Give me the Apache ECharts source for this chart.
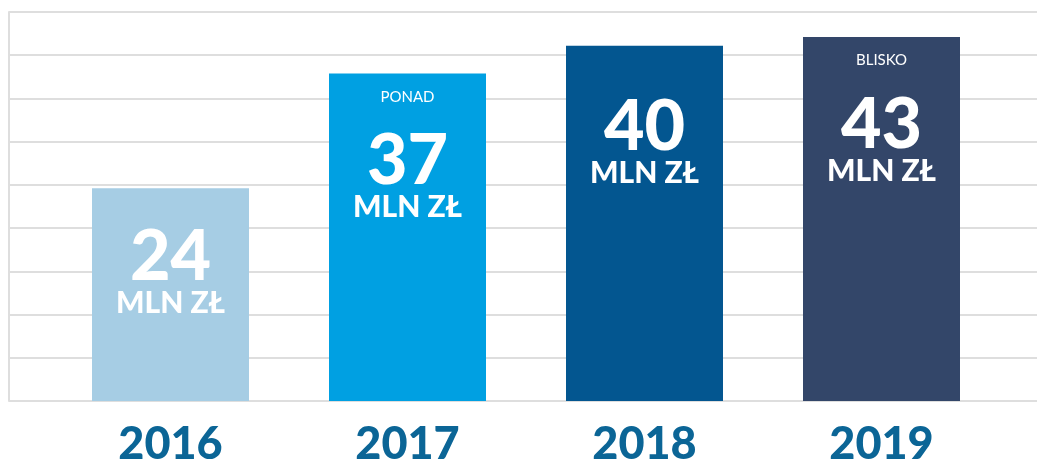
<!DOCTYPE html>
<html>
<head>
<meta charset="utf-8">
<script src="https://cdn.jsdelivr.net/npm/echarts@6/dist/echarts.min.js"></script>
<style>
  html, body { margin: 0; padding: 0; background: #fff; }
  #chart { width: 1037px; height: 460px; }
</style>
</head>
<body>
<div id="chart"></div>
<script>
const years = ['2016', '2017', '2018', '2019'];
// bar heights (axis 0..45)
const heights = [24.6, 37.9, 41.1, 42.1];
const amounts = ['24', '37', '40', '43'];
const prefixes = ['', 'PONAD', '', 'BLISKO'];
const unit = 'MLN ZŁ';

// styling
const barColors = ['#a6cde4', '#00a0e2', '#035690', '#334669'];
const labelDistances = [38, -10, 51, -10];
const gridColor = '#dedede';
const font = 'Lato, "Open Sans", sans-serif';

const chart = echarts.init(document.getElementById('chart'));

const barData = heights.map((v, i) => ({
  value: v,
  itemStyle: { color: barColors[i] },
  label: {
    distance: labelDistances[i],
    formatter: (prefixes[i] ? '{p|' + prefixes[i] + '}\n' : '') +
      '{n|' + amounts[i] + '}\n{m|' + unit + '}'
  }
}));

chart.setOption({
  animation: false,
  grid: [
    { left: 9, right: 0, top: 12, bottom: 59, containLabel: false, outerBoundsMode: 'none' },
    { left: 52, right: 37, top: 12, bottom: 59, containLabel: false, outerBoundsMode: 'none' }
  ],
  xAxis: [
    { gridIndex: 0, type: 'value', show: false, min: 0, max: 1 },
    {
      gridIndex: 1,
      type: 'category',
      data: years,
      axisLine: { show: false },
      axisTick: { show: false },
      axisLabel: {
        margin: 21,
        color: '#0b6596',
        fontFamily: font,
        fontWeight: 900,
        fontSize: 45
      }
    }
  ],
  yAxis: [
    {
      gridIndex: 0,
      type: 'value',
      min: 0,
      max: 45,
      interval: 5,
      axisLabel: { show: false },
      axisTick: { show: false },
      axisLine: { show: true, lineStyle: { color: gridColor, width: 2 } },
      splitLine: { lineStyle: { color: gridColor, width: 2 } }
    },
    {
      gridIndex: 1,
      type: 'value',
      min: 0,
      max: 45,
      show: false
    }
  ],
  series: [{
    type: 'bar',
    xAxisIndex: 1,
    yAxisIndex: 1,
    barWidth: 157,
    data: barData,
    label: {
      show: true,
      position: 'insideTop',
      color: '#fff',
      fontFamily: font,
      align: 'center',
      rich: {
        p: { fontSize: 15, lineHeight: 67, color: '#fff', fontFamily: font, fontWeight: 400 },
        n: { fontSize: 70, lineHeight: 62, color: '#fff', fontFamily: font, fontWeight: 900 },
        m: { fontSize: 30, lineHeight: 30, color: '#fff', fontFamily: font, fontWeight: 900 }
      }
    }
  }]
});

window.addEventListener('resize', () => chart.resize());
</script>
</body>
</html>
